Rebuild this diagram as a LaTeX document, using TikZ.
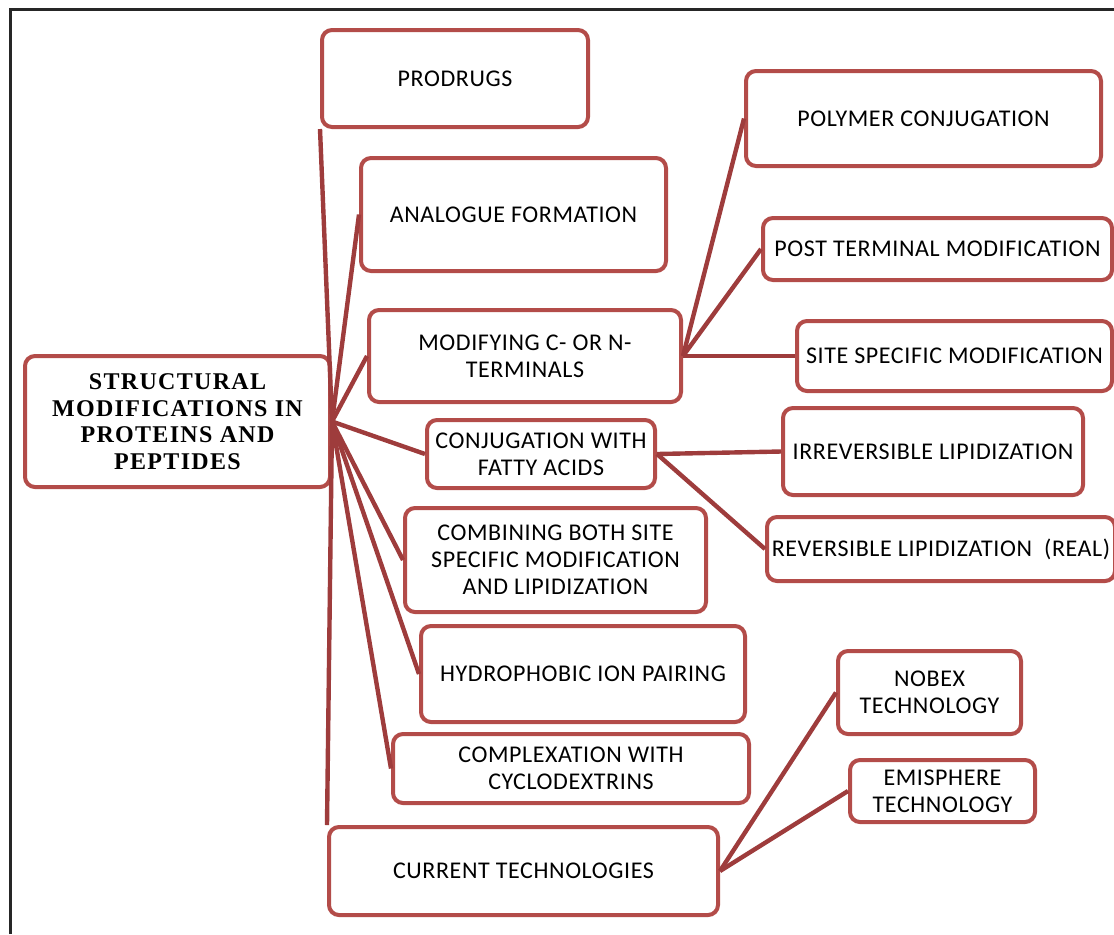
\documentclass[tikz,border=0pt]{standalone}
\usepackage{fontspec}
\setmainfont{Carlito}[LetterSpace=2.5]
\newfontfamily\headfont[LetterSpace=5.5]{Liberation Serif}
\usepackage{tikz}
\usetikzlibrary{positioning}

\definecolor{boxred}{RGB}{179,76,73}
\definecolor{linkred}{RGB}{158,60,60}

\begin{document}
\begin{tikzpicture}[
    x=0.5pt, y=-0.5pt,
    box/.style={rectangle, draw=boxred, line width=2pt, rounded corners=5pt, align=center, inner sep=0pt, font=\fontsize{12}{13.5}\selectfont},
    head/.style={box, font=\headfont\bfseries\fontsize{12}{13.3}\selectfont},
    link/.style={draw=linkred, line width=2.2pt}
]
    \useasboundingbox (0,0) rectangle (1114,934);
    % Frame
    \draw[line width=1.5pt, black!85] (10,934) -- (10,9) -- (1114,9);

    % Main node
    \node[head, minimum width=152.5pt, minimum height=65.5pt] (main) at (177.5,421.5) {
        STRUCTURAL\\
        MODIFICATIONS IN\\
        PROTEINS AND\\
        PEPTIDES
    };

    % First level
    \node[box, minimum width=133pt, minimum height=48.5pt] (prodrugs) at (455,78.5) {PRODRUGS};
    \node[box, minimum width=152.5pt, minimum height=56.5pt] (analogue) at (513.5,214.5) {ANALOGUE FORMATION};
    \node[box, minimum width=156pt, minimum height=46pt] (terminals) at (525,356) {
        MODIFYING C- OR N-\\
        TERMINALS
    };
    \node[box, minimum width=114pt, minimum height=34pt] (fatty) at (541,454) {
        CONJUGATION WITH\\
        FATTY ACIDS
    };
    \node[box, minimum width=150.5pt, minimum height=52pt] (combining) at (555.5,560) {
        COMBINING BOTH SITE\\
        SPECIFIC MODIFICATION\\
        AND LIPIDIZATION
    };
    \node[box, minimum width=162pt, minimum height=48pt] (ionpair) at (583,674) {HYDROPHOBIC ION PAIRING};
    \node[box, minimum width=178pt, minimum height=34.5pt] (cyclo) at (571,768.5) {
        COMPLEXATION WITH\\
        CYCLODEXTRINS
    };
    \node[box, minimum width=194.5pt, minimum height=44pt] (current) at (523.5,871) {CURRENT TECHNOLOGIES};

    % Second level
    \node[box, minimum width=177.5pt, minimum height=47.5pt] (polymer) at (923.5,118.5) {POLYMER CONJUGATION};
    \node[box, minimum width=174.5pt, minimum height=31pt] (postterm) at (937.5,249) {POST TERMINAL MODIFICATION};
    \node[box, minimum width=157.5pt, minimum height=35pt] (sitespec) at (954.5,356) {SITE SPECIFIC MODIFICATION};
    \node[box, minimum width=150pt, minimum height=43.5pt] (irrev) at (933,451.5) {IRREVERSIBLE LIPIDIZATION};
    \node[box, minimum width=174pt, minimum height=32pt] (rev) at (941,549) {REVERSIBLE LIPIDIZATION~~(REAL)};
    \node[box, minimum width=91.5pt, minimum height=41.5pt] (nobex) at (929.5,692.5) {
        NOBEX\\
        TECHNOLOGY
    };
    \node[box, minimum width=92.5pt, minimum height=31pt] (emisphere) at (942.5,791) {
        EMISPHERE\\
        TECHNOLOGY
    };

    % Links from main node
    \draw[link] (main.east) -- (prodrugs.south west);
    \draw[link] (main.east) -- (analogue.west);
    \draw[link] (main.east) -- (terminals.west);
    \draw[link] (main.east) -- (fatty.west);
    \draw[link] (main.east) -- (combining.west);
    \draw[link] (main.east) -- (ionpair.west);
    \draw[link] (main.east) -- (cyclo.west);
    \draw[link] (main.east) -- (current.north west);

    % Links to second level
    \draw[link] (terminals.east) -- (polymer.west);
    \draw[link] (terminals.east) -- (postterm.west);
    \draw[link] (terminals.east) -- (sitespec.west);
    \draw[link] (fatty.east) -- (irrev.west);
    \draw[link] (fatty.east) -- (rev.west);
    \draw[link] (current.east) -- (nobex.west);
    \draw[link] (current.east) -- (emisphere.west);
\end{tikzpicture}
\end{document}
